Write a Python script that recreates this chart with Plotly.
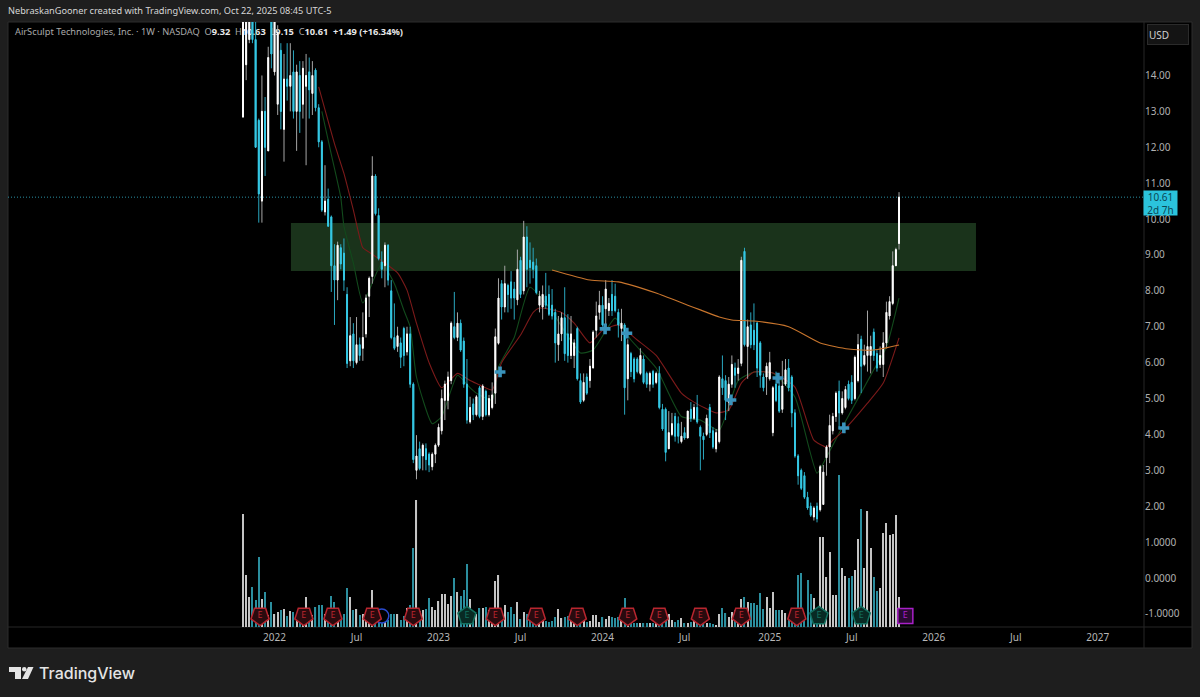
# plot.py - AirSculpt weekly chart, TradingView look

import pandas as pd
import plotly.graph_objects as go

opens = [
    12.84, 14.3, 15.0, 15.9, 15.0, 12.75, 10.5, 13.0, 11.9, 16.0,
    14.1, 13.2, 14.7, 12.5, 13.9, 13.7, 14.1, 13.0, 14.0, 13.2,
    13.7, 14.1, 13.5, 14.15, 13.1, 12.15, 10.2, 10.55, 10.06, 8.7,
    8.3, 9.2, 9.05, 7.9, 6.05, 6.8, 6.0, 6.5, 6.4, 6.8,
    7.85, 8.4, 11.2, 10.1, 8.8, 8.7, 9.27, 8.0, 6.7, 6.45,
    6.55, 6.95, 6.3, 6.8, 5.4, 3.0, 3.6, 3.4, 3.6, 3.45,
    3.1, 3.45, 3.7, 4.1, 4.95, 4.95, 5.5, 7.0, 6.7, 7.1,
    6.6, 5.4, 4.35, 4.85, 4.55, 5.3, 4.5, 5.2, 4.55, 4.75,
    5.15, 6.54, 8.2, 7.55, 8.15, 8.25, 8.05, 7.75, 8.85, 8.0,
    9.5, 8.85, 8.8, 8.7, 7.6, 7.55, 7.85, 7.9, 7.6, 7.4,
    6.5, 6.8, 7.25, 6.8, 6.2, 6.2, 6.95, 5.5, 4.95, 5.6,
    5.5, 5.85, 6.9, 7.4, 7.6, 7.5, 7.45, 7.9, 7.85, 7.4,
    6.95, 7.05, 5.55, 6.25, 6.1, 6.1, 5.7, 6.1, 5.7, 5.4,
    5.75, 5.45, 5.7, 4.7, 4.7, 3.6, 4.0, 4.5, 4.3, 3.8,
    4.05, 3.9, 4.7, 4.45, 4.75, 4.2, 3.95, 4.0, 4.75, 4.1,
    3.6, 3.8, 5.55, 5.5, 4.9, 5.4, 5.85, 5.7, 5.98, 9.1,
    6.45, 7.05, 6.9, 7.1, 6.55, 5.6, 5.6, 5.55, 4.05, 5.4,
    5.35, 4.7, 5.4, 5.85, 5.6, 4.6, 3.4, 3.0, 2.85, 2.25,
    2.0, 1.7, 2.0, 1.9, 2.05, 3.35, 3.65, 4.1, 4.5, 5.2,
    4.6, 4.75, 5.4, 5.45, 5.0, 5.5, 6.65, 5.95, 6.2, 6.2,
    6.85, 6.25, 5.95, 5.95, 6.55, 7.3, 7.65, 8.7, 9.32,
]
highs = [
    17.0, 16.8, 16.2, 16.0, 15.5, 12.8, 14.0, 13.4, 14.8, 16.2,
    16.0, 15.4, 14.9, 14.6, 14.9, 14.9, 14.7, 14.3, 14.4, 14.4,
    14.6, 14.5, 14.4, 14.2, 13.2, 12.2, 11.5, 10.85, 10.1, 9.3,
    9.37, 9.3, 9.46, 8.1, 7.27, 7.1, 7.27, 6.7, 7.4, 7.9,
    8.4, 11.75, 11.25, 10.3, 9.1, 9.35, 9.3, 8.3, 7.65, 7.0,
    6.7, 7.0, 7.0, 7.0, 5.45, 3.98, 3.8, 3.75, 3.75, 3.5,
    3.5, 3.75, 4.3, 5.25, 5.5, 5.75, 7.15, 7.97, 7.4, 7.2,
    6.7, 6.1, 5.05, 5.0, 5.1, 5.35, 5.4, 5.25, 5.1, 5.45,
    6.95, 8.35, 8.3, 8.7, 8.2, 8.55, 8.25, 9.15, 8.95, 9.95,
    9.8, 9.35, 9.2, 8.9, 8.0, 8.15, 8.5, 8.15, 8.05, 7.5,
    7.3, 7.4, 8.1, 7.35, 7.3, 6.65, 7.0, 5.7, 5.7, 5.7,
    6.1, 6.9, 7.7, 8.0, 7.85, 8.3, 7.8, 8.3, 8.2, 7.5,
    7.5, 7.1, 6.65, 6.3, 6.15, 6.15, 6.4, 6.2, 5.75, 5.75,
    5.8, 5.75, 5.9, 4.85, 4.75, 4.65, 4.6, 4.6, 4.5, 4.35,
    4.2, 4.65, 4.9, 4.85, 5.1, 4.25, 4.05, 4.55, 4.85, 4.2,
    4.15, 5.65, 6.2, 5.65, 5.6, 6.2, 6.0, 6.1, 8.95, 9.2,
    7.2, 7.4, 7.65, 7.15, 6.6, 5.7, 6.0, 6.3, 5.35, 5.75,
    5.45, 6.05, 6.1, 6.1, 5.65, 4.7, 3.45, 3.05, 2.95, 2.4,
    2.1, 2.0, 2.1, 3.15, 3.15, 3.7, 4.55, 4.6, 5.2, 5.5,
    5.2, 5.35, 5.5, 5.65, 6.2, 6.8, 6.75, 6.5, 7.45, 6.75,
    6.95, 6.35, 6.45, 6.85, 7.7, 7.85, 9.1, 9.2, 10.75,
]
lows = [
    12.84, 13.87, 14.9, 14.9, 12.0, 9.9, 9.9, 11.2, 11.9, 14.2,
    14.0, 12.9, 12.5, 11.6, 13.3, 13.0, 12.8, 11.9, 12.4, 12.8,
    11.5, 12.8, 12.9, 13.0, 12.0, 10.2, 10.1, 9.8, 7.97, 7.05,
    7.74, 8.6, 8.0, 5.85, 5.9, 5.85, 5.95, 6.05, 6.05, 6.7,
    7.27, 8.2, 10.1, 8.85, 8.35, 8.1, 8.15, 6.65, 6.35, 6.3,
    5.85, 5.9, 6.2, 5.3, 3.2, 2.75, 3.0, 3.0, 3.0, 2.95,
    3.0, 3.2, 3.65, 4.0, 4.4, 4.7, 5.4, 6.65, 6.6, 6.3,
    5.3, 4.3, 4.3, 4.4, 4.5, 4.45, 4.4, 4.5, 4.5, 4.7,
    4.85, 6.5, 7.2, 7.4, 7.4, 7.5, 7.2, 7.6, 7.8, 7.9,
    8.1, 8.2, 8.35, 7.9, 7.4, 7.2, 7.5, 7.3, 7.2, 6.0,
    6.05, 6.6, 6.05, 6.0, 6.1, 5.85, 5.5, 4.85, 4.9, 5.1,
    5.3, 5.85, 6.7, 7.2, 7.0, 7.0, 7.3, 7.3, 7.4, 6.7,
    6.6, 4.55, 4.95, 5.6, 5.45, 5.7, 5.65, 5.4, 5.3, 5.2,
    5.3, 5.4, 4.7, 4.1, 3.25, 3.6, 3.95, 3.8, 3.75, 3.75,
    3.85, 3.9, 4.35, 4.4, 4.3, 3.0, 3.3, 3.95, 3.9, 3.6,
    3.5, 3.75, 5.1, 4.4, 4.65, 5.3, 5.3, 5.5, 5.9, 6.45,
    5.55, 6.4, 6.35, 5.6, 5.3, 5.2, 5.1, 5.5, 3.95, 4.9,
    4.6, 4.6, 5.35, 5.2, 4.2, 3.35, 2.6, 2.45, 2.2, 1.9,
    1.7, 1.6, 1.55, 1.85, 2.05, 2.85, 3.2, 4.0, 4.35, 4.15,
    4.55, 4.7, 4.95, 4.85, 4.95, 5.45, 5.15, 5.9, 5.75, 5.7,
    6.05, 5.75, 5.85, 5.6, 6.4, 7.2, 7.6, 8.7, 9.15,
]
closes = [
    16.5, 16.2, 15.9, 15.0, 12.0, 10.7, 13.0, 12.0, 14.5, 14.6,
    15.8, 15.2, 13.0, 13.9, 13.7, 14.0, 13.0, 14.1, 13.0, 14.2,
    14.0, 13.6, 14.0, 13.1, 12.15, 10.25, 10.5, 9.8, 8.7, 8.3,
    9.27, 8.75, 8.3, 5.98, 6.75, 6.05, 6.5, 6.2, 6.7, 7.8,
    8.35, 11.2, 10.15, 8.9, 8.6, 9.27, 8.3, 6.7, 6.4, 6.75,
    6.15, 6.2, 6.8, 5.4, 3.3, 3.4, 3.05, 3.7, 3.3, 3.15,
    3.45, 3.7, 4.2, 5.0, 5.4, 5.6, 7.1, 6.7, 7.1, 6.35,
    5.4, 4.4, 4.75, 4.55, 5.05, 4.5, 5.35, 4.55, 5.0, 5.1,
    6.72, 7.8, 7.55, 8.2, 7.9, 7.8, 7.8, 8.6, 7.9, 9.5,
    8.6, 8.65, 8.6, 7.95, 7.85, 7.9, 7.6, 7.35, 7.3, 6.55,
    6.8, 7.25, 6.25, 6.2, 6.8, 6.55, 5.55, 4.9, 5.45, 5.15,
    5.9, 6.85, 7.3, 7.6, 7.05, 8.05, 7.65, 7.45, 7.45, 7.05,
    7.1, 5.3, 6.5, 5.75, 5.55, 5.75, 6.2, 5.45, 5.4, 5.7,
    5.4, 5.7, 4.75, 4.15, 3.5, 4.05, 4.3, 3.95, 3.95, 3.95,
    3.9, 4.65, 4.45, 4.75, 4.35, 3.95, 3.85, 4.45, 4.05, 3.65,
    4.05, 5.6, 5.3, 4.95, 5.4, 5.95, 5.65, 5.85, 8.85, 6.5,
    7.0, 6.5, 6.5, 5.85, 5.65, 5.3, 5.9, 6.0, 5.3, 4.95,
    4.65, 5.35, 5.8, 5.3, 4.6, 3.4, 2.85, 2.5, 2.25, 1.95,
    1.75, 1.95, 1.65, 3.1, 2.95, 3.65, 4.25, 4.5, 5.15, 4.6,
    5.0, 5.25, 5.0, 4.95, 6.15, 6.5, 5.9, 6.2, 6.45, 6.45,
    6.2, 5.85, 6.2, 6.55, 7.4, 7.7, 8.7, 9.15, 10.61,
]
volumes = [
    1.13, .52, .30, .40, .27, .70, .28, .35, .12, .25,
    .13, .15, .17, .18, .11, .16, .15, .12, .13, .15,
    .30, .13, .12, .20, .22, .22, .13, .16, .31, .25,
    .12, .10, .13, .39, .30, .17, .18, .12, .13, .15,
    .15, .37, .13, .12, .15, .08, .07, .13, .13, .13,
    .07, .11, .19, .22, .79, 1.27, .16, .17, .18, .29,
    .20, .17, .26, .33, .33, .23, .31, .49, .35, .31,
    .37, .63, .28, .12, .13, .19, .19, .20, .17, .15,
    .46, .52, .12, .22, .15, .20, .13, .25, .08, .15,
    .13, .11, .08, .11, .08, .07, .06, .05, .06, .10,
    .18, .09, .10, .11, .08, .07, .08, .07, .07, .05,
    .06, .12, .12, .05, .10, .08, .11, .10, .09, .10,
    .10, .29, .10, .05, .04, .04, .04, .04, .04, .04,
    .04, .07, .09, .09, .10, .13, .07, .05, .07, .09,
    .04, .04, .05, .09, .07, .07, .09, .04, .04, .03,
    .02, .13, .19, .14, .10, .15, .17, .12, .28, .30,
    .25, .24, .24, .22, .34, .18, .30, .19, .35, .17,
    .17, .17, .14, .09, .10, .10, .52, .54, .14, .47,
    .33, .29, .10, .90, .90, .50, .75, .32, .32, 1.52,
    .59, .51, .49, .51, .57, .88, 1.18, .59, 1.16, .79,
    .50, .36, .39, .94, 1.04, .92, .93, 1.12, .30,
]

# moving averages, read at the bends (week number, price)
red_weeks = [24, 29, 32, 35, 38, 40, 49, 52, 55, 59, 63, 68, 72, 75, 79, 82, 88, 92, 94, 101, 105,
             110, 114, 119, 125, 131, 139, 143, 150, 154, 158, 162, 168, 175, 181, 185, 187, 190, 198, 203, 208]
red_ma = [13.68, 12.1, 11.27, 10.25, 9.2, 9.08, 8.5, 8.02, 7.1, 6.0, 5.3, 5.7, 5.5, 5.38, 5.24, 6.0, 6.77, 7.4, 7.52, 7.4, 7.1,
          6.55, 6.9, 7.05, 6.63, 6.2, 5.15, 4.9, 4.6, 4.68, 5.43, 5.74, 5.71, 5.32, 3.84, 3.65, 3.84, 4.07, 4.87, 5.43, 6.69]
green_weeks = [25, 28, 31, 32, 35, 38, 44, 48, 51, 53, 55, 60, 63, 68, 72, 74, 79, 81, 86, 91, 97,
               107, 111, 118, 123, 131, 139, 145, 151, 157, 162, 168, 175, 182, 185, 190, 200, 204, 208]
green_ma = [13.0, 11.8, 10.6, 9.8, 8.77, 7.66, 8.77, 8.2, 7.46, 7.0, 5.6, 4.3, 4.5, 5.65, 5.3, 5.15, 4.96, 5.88, 6.7, 8.1, 7.55,
            6.27, 6.35, 7.24, 6.63, 5.85, 4.5, 4.4, 4.12, 5.5, 5.74, 5.71, 5.04, 2.92, 3.37, 4.2, 5.8, 6.43, 7.8]
orange_weeks = [98, 110, 119, 131, 141, 145, 151, 155, 162, 173, 183, 192, 200, 208]
orange_ma = [8.58, 8.3, 8.25, 7.94, 7.6, 7.47, 7.27, 7.19, 7.16, 7.0, 6.55, 6.38, 6.35, 6.49]

# earnings badges and the little blue crosses
earn_red = [5.4, 19.3, 28.5, 41, 54, 80, 93, 106, 122, 132, 145, 158, 175.6]
earn_green = [71, 182.6, 196]
earn_next = [210]
dividend_week = [44]
plus_weeks = [81.5, 114.8, 121.7, 154.7, 169.6, 190.5]
plus_price = [5.74, 6.94, 6.82, 4.96, 5.57, 4.18]

tick_dates = ["2022-01-03", "2022-07-04", "2023-01-02", "2023-07-03", "2024-01-01", "2024-07-01",
              "2025-01-06", "2025-07-07", "2026-01-05", "2026-07-06", "2027-01-04"]
tick_names = ["2022", "Jul", "2023", "Jul", "2024", "Jul", "2025", "Jul", "2026", "Jul", "2027"]
price_ticks = [14, 13, 12, 11, 10, 9, 8, 7, 6, 5, 4, 3, 2, 1, 0, -1]
price_names = ["14.00", "13.00", "12.00", "11.00", "10.00", "9.00", "8.00", "7.00", "6.00", "5.00",
               "4.00", "3.00", "2.00", "1.0000", "0.0000", "-1.0000"]

FONT = "Noto Sans"
W, H = 1200, 697
start = pd.Timestamp("2021-10-25")


def wk(i):
    return start + pd.Timedelta(weeks=i)


def wks(items):
    return [wk(i) for i in items]


def px(x):
    return x / W


def py(y):
    return 1 - y / H


weeks = wks(range(len(closes)))
vol_colors = ["#c4c4c4" if c >= o else "#2b8e9e" for o, c in zip(opens, closes)]

fig = go.Figure()

# base axis: legend text and the two short averages stay behind the candles
fig.add_trace(go.Scatter(
    x=[wk((15 - 243) / 3.154)], y=[15.18], mode="text", textposition="middle right",
    text=["AirSculpt Technologies, Inc. · 1W · NASDAQ  O<b><span style='color:#e8e8e8'>9.32</span></b>  "
          "H<b><span style='color:#e8e8e8'>10.63</span></b>  L<b><span style='color:#e8e8e8'>9.15</span></b>  "
          "C<b><span style='color:#e8e8e8'>10.61</span></b>  <b><span style='color:#e8e8e8'>+1.49 (+16.34%)</span></b>"],
    textfont=dict(family=FONT, size=9.25, color="#a8a8a8"), showlegend=False, hoverinfo="skip"))

for w, v, col in [(green_weeks, green_ma, "#124a1c"), (red_weeks, red_ma, "#7c1a1a")]:
    fig.add_trace(go.Scatter(x=wks(w), y=v, mode="lines", line=dict(color=col, width=1.1, shape="spline", smoothing=0.5),
                             showlegend=False, hoverinfo="skip"))

# volume
fig.add_trace(go.Bar(x=weeks, y=volumes, yaxis="y2", marker=dict(color=vol_colors, line=dict(width=0)),
                     width=0.36 * 7 * 24 * 3600 * 1000, showlegend=False, hoverinfo="skip"))

# badges sit on the volume axis, just above the bottom line
badge = 0.11
fig.add_trace(go.Scatter(x=wks(dividend_week), y=[badge], yaxis="y2", mode="markers", showlegend=False, hoverinfo="skip",
                         marker=dict(symbol="circle", size=14, color="#000000", line=dict(color="#2a4bd0", width=1.5))))
for items, symbol, angle, col, fill, size in [
    (earn_red, "pentagon", 180, "#b8262f", "#2a0a0e", 19),
    (earn_green, "pentagon", 0, "#13705f", "#082a24", 19),
    (earn_next, "square", 0, "#a820c8", "#2a0a32", 15),
]:
    fig.add_trace(go.Scatter(
        x=wks(items), y=[badge] * len(items), yaxis="y2", mode="markers+text",
        text=["E"] * len(items), textposition="middle center",
        textfont=dict(family=FONT, size=9, color=col),
        marker=dict(symbol=symbol, angle=angle, size=size, color=fill, line=dict(color=col, width=1.5)),
        showlegend=False, hoverinfo="skip"))

# candles: grey/teal wicks first, then clean bodies on top
fig.add_trace(go.Candlestick(
    x=weeks, open=opens, high=highs, low=lows, close=closes, yaxis="y3",
    increasing=dict(fillcolor="#ffffff", line=dict(color="#a6a6a6", width=1)),
    decreasing=dict(fillcolor="#36c8e4", line=dict(color="#2aa8c0", width=1)),
    whiskerwidth=0, showlegend=False, hoverinfo="skip"))
fig.add_trace(go.Candlestick(
    x=weeks, open=opens, close=closes, yaxis="y3",
    high=[max(o, c) for o, c in zip(opens, closes)], low=[min(o, c) for o, c in zip(opens, closes)],
    increasing=dict(fillcolor="#ffffff", line=dict(color="#ffffff", width=1)),
    decreasing=dict(fillcolor="#36c8e4", line=dict(color="#36c8e4", width=1)),
    whiskerwidth=0, showlegend=False, hoverinfo="skip"))

fig.add_trace(go.Scatter(x=wks(orange_weeks), y=orange_ma, yaxis="y3", mode="lines",
                         line=dict(color="#c8752d", width=1.1, shape="spline", smoothing=0.6),
                         showlegend=False, hoverinfo="skip"))
fig.add_trace(go.Scatter(x=wks(plus_weeks), y=plus_price, yaxis="y3", mode="markers", showlegend=False, hoverinfo="skip",
                         marker=dict(symbol="cross", size=9, color="#3a93bb", line=dict(width=0))))

shapes = [
    dict(type="rect", xref="paper", yref="paper", x0=px(8), x1=px(1192), y0=py(648), y1=py(22),
         fillcolor="#000000", line=dict(color="#2c2c2c", width=1), layer="below"),
    # supply zone
    dict(type="rect", xref="x", yref="y", x0=wk(15.2), x1=wk(232.4), y0=8.55, y1=9.89,
         fillcolor="#1a331b", line=dict(width=0), layer="below"),
    # last price line
    dict(type="line", xref="x domain", yref="y", x0=0, x1=1, y0=10.61, y1=10.61,
         line=dict(color="#2a8fa3", width=1, dash="1px,2px"), layer="below"),
    dict(type="line", xref="paper", yref="paper", x0=px(1144), x1=px(1144), y0=py(22), y1=py(648),
         line=dict(color="#262626", width=1), layer="below"),
    dict(type="line", xref="paper", yref="paper", x0=px(8), x1=px(1192), y0=py(627), y1=py(627),
         line=dict(color="#262626", width=1), layer="below"),
    # logo
    dict(type="path", xref="paper", yref="paper", fillcolor="#e4e4e4", line=dict(width=0),
         path="M {} {} L {} {} L {} {} L {} {} L {} {} L {} {} Z".format(
             px(9), py(667), px(21), py(667), px(21), py(679), px(15), py(679), px(15), py(672), px(9), py(672))),
    dict(type="circle", xref="paper", yref="paper", fillcolor="#e4e4e4", line=dict(width=0),
         x0=px(22), x1=px(26.5), y0=py(671.5), y1=py(667)),
    dict(type="path", xref="paper", yref="paper", fillcolor="#e4e4e4", line=dict(width=0),
         path="M {} {} L {} {} L {} {} L {} {} Z".format(
             px(28), py(667), px(33.5), py(667), px(28), py(679), px(22), py(679))),
]

annotations = [
    dict(x=px(6), y=py(11), xref="paper", yref="paper", xanchor="left", yanchor="middle", showarrow=False,
         text="NebraskanGooner created with TradingView.com, Oct 22, 2025 08:45 UTC-5",
         font=dict(family=FONT, size=9.2, color="#d6d6d6")),
    dict(x=px(1167.5), y=py(35), xref="paper", yref="paper", xanchor="center", yanchor="middle", showarrow=False,
         text="USD", width=38, height=17, align="left", bgcolor="#141414", bordercolor="#2b2b2b", borderwidth=1,
         font=dict(family=FONT, size=10, color="#d0d0d0")),
    dict(x=px(1143), y=py(203), xref="paper", yref="paper", xanchor="left", yanchor="middle", showarrow=False,
         text="10.61<br>2d 7h", width=33, height=24, bgcolor="#2bc3dc", borderpad=0,
         font=dict(family=FONT, size=10, color="#0c4654")),
    dict(x=px(37), y=py(673), xref="paper", yref="paper", xanchor="left", yanchor="middle", showarrow=False,
         text="TradingView", font=dict(family="Inter", size=16, color="#e4e4e4", weight=500)),
]

x_left = wk((8 - 243) / 3.154)
x_right = wk((1144 - 243) / 3.154)
price_range = [-1.365, 15.49]

fig.update_layout(
    width=W, height=H, margin=dict(l=0, r=0, t=0, b=0), autosize=False,
    paper_bgcolor="#1e1e1e", plot_bgcolor="#000000",
    barmode="overlay", boxgap=0.6, showlegend=False,
    xaxis=dict(domain=[px(8), px(1144)], range=[x_left, x_right], type="date", rangeslider=dict(visible=False),
               tickmode="array", tickvals=tick_dates, ticktext=tick_names, showgrid=False, zeroline=False,
               ticks="", showline=False, ticklabelstandoff=3, tickfont=dict(family=FONT, size=10, color="#b8b8b8")),
    yaxis=dict(domain=[py(627), py(22)], range=price_range, side="right", tickmode="array",
               tickvals=price_ticks, ticktext=price_names, showgrid=False, zeroline=False, ticks="",
               showline=False, tickfont=dict(family=FONT, size=10, color="#b0b0b0")),
    yaxis2=dict(domain=[py(627), py(22)], range=[0, 6.05], overlaying="y", visible=False),
    yaxis3=dict(domain=[py(627), py(22)], range=price_range, overlaying="y", visible=False),
    shapes=shapes, annotations=annotations,
)

fig.write_html("out.html", config=dict(displayModeBar=False),
               post_script="document.body.style.margin='0';document.body.style.overflow='hidden';")
